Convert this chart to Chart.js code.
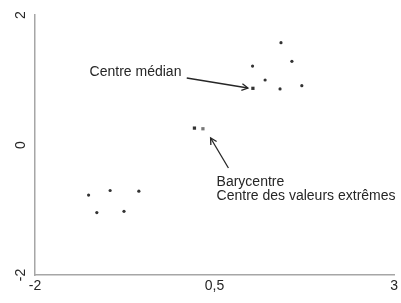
<!DOCTYPE html>
<html>
<head>
<meta charset="utf-8">
<script src="https://cdn.jsdelivr.net/npm/chart.js@4.4.1/dist/chart.umd.min.js"></script>
<style>
html,body{margin:0;padding:0;background:#fff;}
#wrap{width:401px;height:303px;}
</style>
</head>
<body>
<div id="wrap"><canvas id="c" width="401" height="303"></canvas></div>
<script>
// Data
const pointsX = [-1.254, -0.954, -0.554, -1.139, -0.761, 1.425, 1.029, 1.577, 1.204, 1.412, 1.715];
const pointsY = [-0.77, -0.70, -0.71, -1.04, -1.02, 1.574, 1.215, 1.288, 1.0, 0.862, 0.912];
const medianX = [1.034];
const medianY = [0.872];
const extremesX = [0.22];
const extremesY = [0.26];
const barycentreX = [0.338];
const barycentreY = [0.25];
const xTicks = [-2, 0.5, 3];
const yTicks = [-2, 0, 2];
const labelMedian = "Centre médian";
const labelCentres = ["Barycentre", "Centre des valeurs extrêmes"];

const zip = (xs, ys) => xs.map((x, i) => ({x: x, y: ys[i]}));

const FONT = '"Liberation Sans", Arial, sans-serif';
const TEXT = '#262626';

// annotation placement (data coordinates)
const annotations = {
  texts: [
    {lines: [labelMedian], x: -1.24, y: 1.123},
    {lines: labelCentres, x: 0.528, y: -0.578}
  ],
  arrows: [
    {from: {x: 0.113, y: 1.031}, to: {x: 0.965, y: 0.877}},
    {from: {x: 0.693, y: -0.354}, to: {x: 0.445, y: 0.108}}
  ]
};

const annotPlugin = {
  id: 'annot',
  afterDraw(chart) {
    const ctx = chart.ctx, xs = chart.scales.x, ys = chart.scales.y;
    ctx.save();
    // rotated y tick labels
    ctx.fillStyle = TEXT;
    ctx.font = '14px ' + FONT;
    ctx.textAlign = 'center';
    ctx.textBaseline = 'middle';
    yTicks.forEach(v => {
      const py = ys.getPixelForValue(v);
      ctx.save();
      ctx.translate(xs.left - 14, py);
      ctx.rotate(-Math.PI / 2);
      ctx.fillText(String(v), 0, 0);
      ctx.restore();
    });
    // texts
    ctx.textAlign = 'left';
    annotations.texts.forEach(t => {
      const px = xs.getPixelForValue(t.x), py = ys.getPixelForValue(t.y);
      t.lines.forEach((l, i) => ctx.fillText(l, px, py + i * 14));
    });
    // arrows
    ctx.strokeStyle = '#262626';
    ctx.lineWidth = 1.3;
    annotations.arrows.forEach(a => {
      const x1 = xs.getPixelForValue(a.from.x), y1 = ys.getPixelForValue(a.from.y);
      const x2 = xs.getPixelForValue(a.to.x), y2 = ys.getPixelForValue(a.to.y);
      const ang = Math.atan2(y2 - y1, x2 - x1);
      ctx.beginPath();
      ctx.moveTo(x1, y1);
      ctx.lineTo(x2, y2);
      ctx.stroke();
      const L = 7, w = 0.5;
      ctx.beginPath();
      ctx.moveTo(x2 - L * Math.cos(ang - w), y2 - L * Math.sin(ang - w));
      ctx.lineTo(x2, y2);
      ctx.lineTo(x2 - L * Math.cos(ang + w), y2 - L * Math.sin(ang + w));
      ctx.stroke();
    });
    ctx.restore();
  }
};

new Chart(document.getElementById('c'), {
  type: 'scatter',
  data: {
    datasets: [
      {data: zip(pointsX, pointsY), pointStyle: 'circle', pointRadius: 1.6, backgroundColor: '#333', borderWidth: 0},
      {data: zip(medianX, medianY), pointStyle: 'rect', pointRadius: 2.3, backgroundColor: '#333', borderWidth: 0},
      {data: zip(extremesX, extremesY), pointStyle: 'rect', pointRadius: 2.3, backgroundColor: '#333', borderWidth: 0},
      {data: zip(barycentreX, barycentreY), pointStyle: 'rect', pointRadius: 2.3, backgroundColor: '#777', borderWidth: 0}
    ]
  },
  options: {
    responsive: false,
    animation: false,
    layout: {padding: {top: 15, right: 4, left: 0, bottom: 0}},
    plugins: {legend: {display: false}, tooltip: {enabled: false}},
    scales: {
      x: {
        type: 'linear', min: -2, max: 3,
        afterBuildTicks: s => { s.ticks = xTicks.map(v => ({value: v})); },
        afterFit: s => { s.height = 28; },
        grid: {display: false, drawTicks: false},
        border: {display: true, color: '#a6a6a6', width: 1.5},
        ticks: {
          color: TEXT, font: {family: FONT, size: 14}, padding: 3,
          maxRotation: 0, autoSkip: false,
          callback: v => String(v).replace('.', ',')
        }
      },
      y: {
        type: 'linear', min: -2, max: 2,
        afterBuildTicks: s => { s.ticks = yTicks.map(v => ({value: v})); },
        afterFit: s => { s.width = 35; },
        grid: {display: false, drawTicks: false},
        border: {display: true, color: '#a6a6a6', width: 1.5},
        ticks: {display: false}
      }
    }
  },
  plugins: [annotPlugin]
});
</script>
</body>
</html>
